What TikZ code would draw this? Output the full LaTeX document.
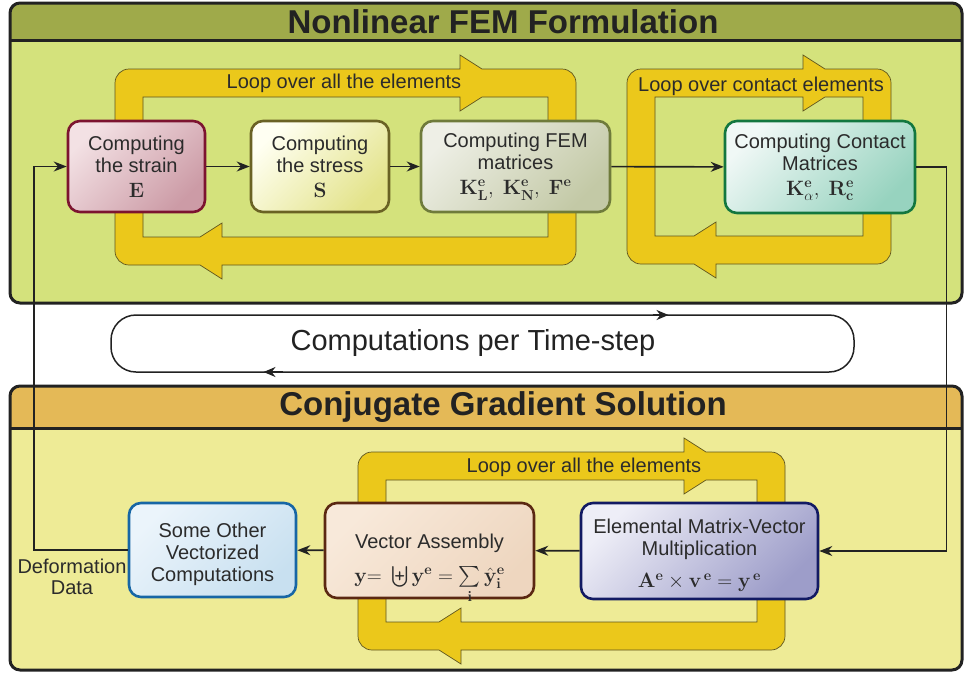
\documentclass[tikz,border=0pt]{standalone}
\usepackage{amsmath}
\usepackage[no-math]{fontspec}
\setmainfont{Liberation Sans}
\usetikzlibrary{arrows.meta}

\definecolor{femhead}{HTML}{9FAA4A}
\definecolor{fembody}{HTML}{D4E27C}
\definecolor{cghead}{HTML}{E4B957}
\definecolor{cgbody}{HTML}{EEEB96}
\definecolor{bandc}{HTML}{EBC81B}
\definecolor{bandline}{HTML}{5E5520}
\definecolor{wire}{HTML}{222222}
\definecolor{txt}{HTML}{2B2B2B}
% box colours: border, light, dark
\definecolor{strainB}{HTML}{7C1430}\definecolor{strainL}{HTML}{F3E1E4}\definecolor{strainD}{HTML}{CC9BA6}
\definecolor{stressB}{HTML}{6A6224}\definecolor{stressL}{HTML}{FFFFF2}\definecolor{stressD}{HTML}{E3E38A}
\definecolor{femB}{HTML}{6F7B3B}\definecolor{femL}{HTML}{EEEFE6}\definecolor{femD}{HTML}{C3C9A6}
\definecolor{contB}{HTML}{13773F}\definecolor{contL}{HTML}{F0F8F6}\definecolor{contD}{HTML}{97D3BF}
\definecolor{otherB}{HTML}{1766A5}\definecolor{otherL}{HTML}{EBF4FB}\definecolor{otherD}{HTML}{C8E0F0}
\definecolor{vecB}{HTML}{5B2812}\definecolor{vecL}{HTML}{F8E9DA}\definecolor{vecD}{HTML}{EED6BF}
\definecolor{matB}{HTML}{121A63}\definecolor{matL}{HTML}{EEEEF7}\definecolor{matD}{HTML}{9D9DC9}

\tikzset{
  panel/.style={draw=wire, line width=3pt},
  title/.style={font=\fontsize{33}{36}\selectfont\bfseries, text=wire},
  box/.style={draw, line width=2.6pt, rounded corners=12pt, inner sep=0pt,
    align=center, text=txt, font=\fontsize{20}{22}\selectfont},
  tint/.style 2 args={top color=#1, bottom color=#2, shading angle=45},
  looplabel/.style={font=\fontsize{20}{22}\selectfont, text=txt},
  band/.style={fill=bandc, draw=bandline, line width=0.7pt, even odd rule},
  arr/.style={-{Stealth[length=13pt,width=10pt]}, line width=1.6pt, draw=wire},
  tarr/.style={-{Stealth[length=12pt,width=10pt]}, line width=1.5pt, draw=wire},
}

\begin{document}
\begin{tikzpicture}[x=1pt,y=-1pt]
\useasboundingbox (0,0) rectangle (964,673);

% FEM panel
\begin{scope}
  \clip[rounded corners=10pt] (10,3) rectangle (962,303);
  \fill[fembody] (10,3) rectangle (962,303);
  \fill[femhead] (10,3) rectangle (962,40);
\end{scope}
\draw[panel, rounded corners=10pt] (10,3) rectangle (962,303);
\draw[panel] (10,40) -- (962,40);
\node[title] (femtitle) at (503,22) {Nonlinear FEM Formulation};

% CG panel
\begin{scope}
  \clip[rounded corners=10pt] (10,386) rectangle (962,670);
  \fill[cgbody] (10,386) rectangle (962,670);
  \fill[cghead] (10,386) rectangle (962,428);
\end{scope}
\draw[panel, rounded corners=10pt] (10,386) rectangle (962,670);
\draw[panel] (10,428) -- (962,428);
\node[title] (cgtitle) at (503,407) {Conjugate Gradient Solution};

% loop bands
\foreach \xl/\yt/\xr/\yb/\ht/\hb in {115/69/576/265/460/222, 627/69/891/264/803/716, 358/452/785/650/684/461}
  \draw[band]
    (\xl,{\yt+14}) arc[start angle=180, end angle=270, radius=14]
    -- (\ht,\yt) -- (\ht,{\yt-14}) -- ({\ht+22},\yt)
    -- ({\xr-14},\yt) arc[start angle=270, end angle=360, radius=14]
    -- (\xr,{\yb-14}) arc[start angle=0, end angle=90, radius=14]
    -- (\hb,\yb) -- (\hb,{\yb+14}) -- ({\hb-22},\yb)
    -- ({\xl+14},\yb) arc[start angle=90, end angle=180, radius=14]
    -- cycle
    ({\xl+28},{\yt+28}) -- (\ht,{\yt+28}) -- (\ht,{\yt+42}) -- ({\ht+22},{\yt+28})
    -- ({\xr-28},{\yt+28}) -- ({\xr-28},{\yb-28})
    -- (\hb,{\yb-28}) -- (\hb,{\yb-42}) -- ({\hb-22},{\yb-28})
    -- ({\xl+28},{\yb-28}) -- cycle;

\node[looplabel] (elemloop) at (344,83) {Loop over all the elements};
\node[looplabel] (contloop) at (761,86) {Loop over contact elements};
\node[looplabel] (cgloop) at (584,467) {Loop over all the elements};

% FEM boxes
\node[box, draw=strainB, tint={strainL}{strainD}, minimum width=137, minimum height=91]
  (strain) at (136.5,166.5) {Computing\\the strain\\[3pt]$\mathbf{E}$};
\node[box, draw=stressB, tint={stressL}{stressD}, minimum width=138, minimum height=91]
  (stress) at (320,166.5) {Computing\\the stress\\[3pt]$\mathbf{S}$};
\node[box, draw=femB, tint={femL}{femD}, minimum width=189, minimum height=91]
  (fem) at (515.5,166.5) {Computing FEM\\matrices\\[3pt]$\mathbf{K^e_L},\ \mathbf{K^e_N},\ \mathbf{F^e}$};
\node[box, draw=contB, tint={contL}{contD}, minimum width=190, minimum height=92]
  (contact) at (820,167) {Computing Contact\\Matrices\\[3pt]$\mathbf{K^e_{\alpha}},\ \mathbf{R^e_c}$};

% CG boxes
\node[box, draw=otherB, tint={otherL}{otherD}, minimum width=167, minimum height=94]
  (other) at (212.5,550) {\rule{0pt}{24pt}Some Other\\Vectorized\\Computations};
\node[box, draw=vecB, tint={vecL}{vecD}, minimum width=209, minimum height=95]
  (vector) at (429.5,550.5) {\rule{0pt}{30pt}Vector Assembly\\[12pt]$\smash[b]{\mathbf{y}{=}\;\biguplus\mathbf{y^e}=\sum\limits_{\mathbf{i}}\hat{\mathbf{y}}^{\mathbf{e}}_{\mathbf{i}}}$};
\node[box, draw=matB, tint={matL}{matD}, minimum width=237, minimum height=96]
  (elemental) at (699.5,551) {\rule{0pt}{24pt}Elemental Matrix-Vector\\Multiplication\\[10pt]$\mathbf{A^e}\times\mathbf{v}^{\,\mathbf{e}}=\mathbf{y}^{\,\mathbf{e}}$};

\node[looplabel, align=center, font=\fontsize{20}{21}\selectfont] (defdata) at (72,577) {Deformation\\Data};

% time-step loop
\node[draw=wire, line width=1.5pt, rounded corners=25pt, fill=white, outer sep=0pt,
  minimum width=743, minimum height=57] (tloop) at (482.5,343.5) {};
\node[font=\fontsize{29}{32}\selectfont, text=wire] (tlabel) at (473,343) {Computations per Time-step};
\draw[tarr] ([xshift=170pt]tloop.north) -- ([xshift=186pt]tloop.north);
\draw[tarr] ([xshift=-200pt]tloop.south) -- ([xshift=-219pt]tloop.south);

% connectors
\draw[arr] (strain) -- (stress);
\draw[arr] (stress) -- (fem);
\draw[arr] (fem) -- (contact);
\draw[arr] (contact.east) -- ++(30,0) |- (elemental.east);
\draw[arr] (elemental) -- (vector);
\draw[arr] (vector) -- (other);
\draw[arr] (other.west) -- ++(-94,0) |- (strain.west);
\end{tikzpicture}
\end{document}
